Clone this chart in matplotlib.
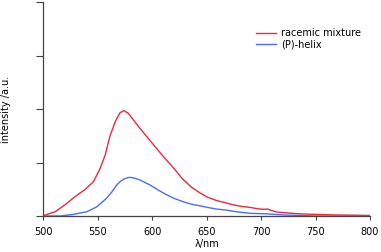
import matplotlib
matplotlib.use('Agg')
import matplotlib.pyplot as plt

# racemic mixture (red)
red_nm = [500, 502, 511, 520, 529, 538, 546, 552, 557, 561, 566, 570.4, 574, 578, 582.6,
          588.7, 598, 607, 616, 622, 628, 636, 644, 651, 659, 667, 674,
          682, 690, 697, 702, 706, 710, 714, 725, 736, 750, 767, 785, 800]
red_val = [0.0, 0.02, 0.08, 0.21, 0.36, 0.49, 0.64, 0.88, 1.15, 1.48, 1.76, 1.93, 1.97, 1.92, 1.80,
           1.64, 1.41, 1.19, 0.98, 0.84, 0.69, 0.54, 0.43, 0.35, 0.29, 0.25, 0.21,
           0.18, 0.16, 0.135, 0.125, 0.13, 0.10, 0.075, 0.055, 0.04, 0.03, 0.02, 0.015, 0.01]

# (P)-helix (blue)
blue_nm = [500, 516, 527.5, 540, 549, 558, 563, 567.4, 570.4, 574, 578, 581, 585, 589,
           598, 606, 613, 620, 628, 636, 644, 651, 659, 668, 677, 690, 705, 720, 735, 751, 800]
blue_val = [0.0, 0.0, 0.03, 0.08, 0.17, 0.33, 0.45, 0.58, 0.64, 0.69, 0.72, 0.72, 0.70, 0.67,
            0.58, 0.48, 0.40, 0.33, 0.27, 0.22, 0.19, 0.16, 0.13, 0.11, 0.08, 0.05, 0.04, 0.02, 0.01, 0.0, 0.0]

x_ticks = [500, 550, 600, 650, 700, 750, 800]
y_ticks = [0, 1, 2, 3, 4]

fig = plt.figure(figsize=(3.81, 2.52), dpi=100)
ax = fig.add_axes([43.3 / 381, 36 / 252, (370 - 43.3) / 381, (216 - 2) / 252])

ax.plot(red_nm, red_val, color='#f0283c', lw=1.0, label='racemic mixture')
ax.plot(blue_nm, blue_val, color='#4a6cff', lw=1.0, label='(P)-helix')

ax.set_xlim(500, 800)
ax.set_ylim(0, 4)
ax.set_xticks(x_ticks)
ax.set_yticks(y_ticks)
ax.set_yticklabels([])
ax.tick_params(axis='x', length=3, width=0.8, labelsize=7, pad=5, color='#444444')
ax.tick_params(axis='y', length=5, width=0.8, color='#444444')

for s in ['top', 'right']:
    ax.spines[s].set_visible(False)
for s in ['left', 'bottom']:
    ax.spines[s].set_color('#444444')
    ax.spines[s].set_linewidth(0.9)

ax.set_xlabel('λ/nm', fontsize=7, labelpad=1)
ax.set_ylabel('intensity /a.u.', fontsize=7)
ax.yaxis.set_label_coords((11.5 - 43.3) / 326.7, 0.5)

ax.legend(loc='upper left', bbox_to_anchor=(256 / 381, 1 - 28 / 252),
          bbox_transform=fig.transFigure, frameon=False, fontsize=7,
          handlelength=2.1, handletextpad=0.45, labelspacing=0.15,
          borderpad=0, borderaxespad=0)

fig.savefig('out.png', dpi=100)
